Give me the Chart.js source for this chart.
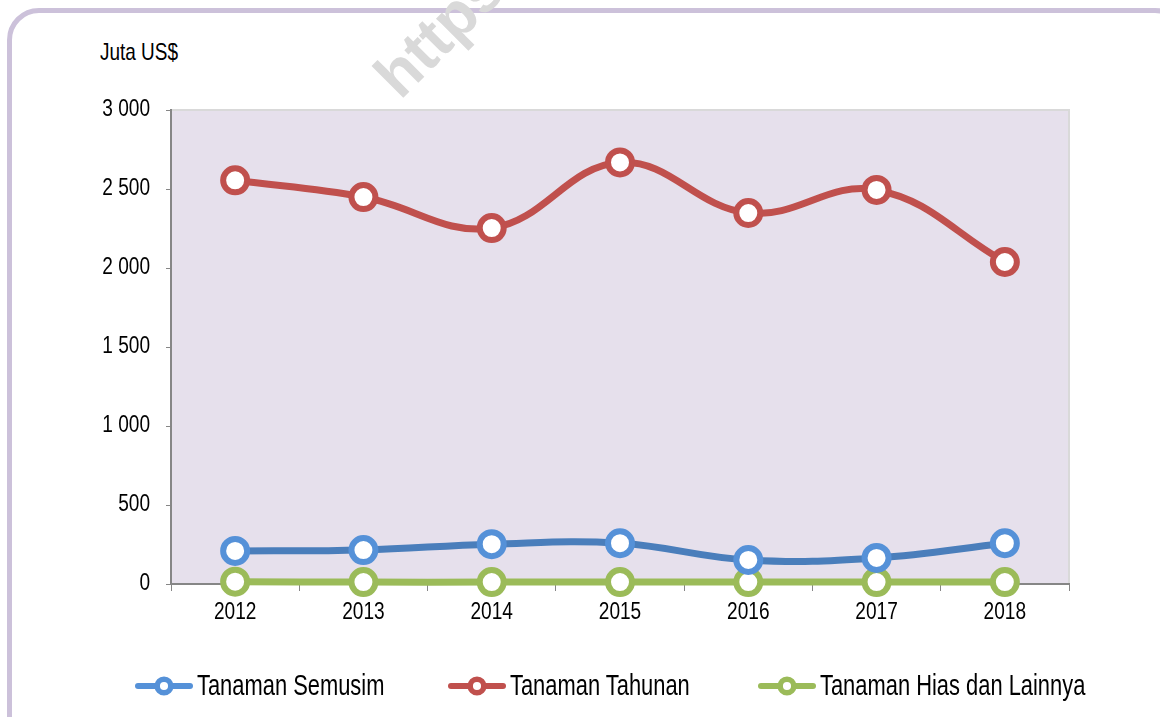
<!DOCTYPE html>
<html lang="id">
<head>
<meta charset="UTF-8">
<title>Nilai Ekspor</title>
<script src="https://cdn.jsdelivr.net/npm/chart.js"></script>
<style>
    html, body { margin: 0; padding: 0; background: #fff; overflow: hidden; }
    body { width: 1160px; height: 717px; position: relative; font-family: "Liberation Sans", Arial, sans-serif; }
    .kotak { position: absolute; left: 7px; top: 8px; width: 1180px; height: 740px; border: 5px solid #CCC1DA; border-radius: 32px; box-sizing: border-box; }
    .watermark { position: absolute; left: 397px; top: 44.5px; line-height: 1; transform-origin: 0 52.5px; transform: rotate(-45deg); color: #D9D9D9; font: bold 62px "Liberation Sans", Arial, sans-serif; white-space: nowrap; }
    .judul { position: absolute; left: 100px; top: 40px; font-size: 24px; line-height: 1; color: #000; transform-origin: left center; transform: scaleX(0.79); white-space: nowrap; }
    #wadah { position: absolute; left: 0; top: 0; width: 1160px; height: 717px; }
    #legenda { position: absolute; left: 0; top: 669px; width: 1160px; height: 34px; }
    .item { position: absolute; top: 0; height: 34px; }
    .item canvas { position: absolute; left: 0; top: 0; }
    .item span { position: absolute; left: 62px; top: 2px; font-size: 29px; line-height: 1; color: #000; white-space: nowrap; transform-origin: left center; transform: scaleX(0.755); }
</style>
</head>
<body>
<div class="kotak"></div>
<div class="watermark">https://</div>
<div class="judul">Juta US$</div>
<div id="wadah"><canvas id="grafik"></canvas></div>
<div id="legenda"></div>

<script>
    // data
    const tahun = ["2012", "2013", "2014", "2015", "2016", "2017", "2018"];
    const semusim = [209, 215, 252, 258, 152, 165, 258];
    const tahunan = [2555, 2449, 2253, 2668, 2348, 2494, 2038];
    const hias = [15, 12, 12, 12, 12, 12, 12];
    const namaSeri = ["Tanaman Semusim", "Tanaman Tahunan", "Tanaman Hias dan Lainnya"];

    const warnaGaris = ["#4A7EBB", "#C0504D", "#9BBB59"];
    const warnaTitik = ["#5591D8", "#C0504D", "#9BBB59"];
    const posisiTeksLegenda = [197, 510, 820];
    const hurufSumbu = { family: "'Liberation Sans', Arial, sans-serif", size: 23 };
    const rasioSumbu = 0.83; // huruf sumbu dibuat sempit seperti Arial Narrow

    const seri = [semusim, tahunan, hias];

    // teks di kanvas dipersempit secara horizontal
    const hurufSempit = {
        id: "hurufSempit",
        beforeInit(chart) {
            const ctx = chart.ctx;
            const asli = ctx.fillText.bind(ctx);
            ctx.fillText = function (t, x, y) {
                ctx.save();
                ctx.translate(x, y);
                ctx.scale(rasioSumbu, 1);
                asli(t, 0, 0);
                ctx.restore();
            };
        }
    };

    const latarPlot = {
        id: "latarPlot",
        beforeDraw(chart) {
            const { ctx, chartArea: a } = chart;
            ctx.save();
            ctx.fillStyle = "#E6E0EC";
            ctx.fillRect(a.left, a.top, a.right - a.left, a.bottom - a.top);
            ctx.strokeStyle = "#D9D9D9";
            ctx.lineWidth = 2;
            ctx.beginPath();
            ctx.moveTo(a.left, a.top);
            ctx.lineTo(a.right, a.top);
            ctx.lineTo(a.right, a.bottom);
            ctx.stroke();
            ctx.restore();
        }
    };

    const grafik = new Chart(document.getElementById("grafik"), {
        type: "line",
        data: {
            labels: tahun,
            datasets: seri.map((d, i) => ({
                label: namaSeri[i],
                data: d,
                borderColor: warnaGaris[i],
                borderWidth: 7,
                tension: 0.4,
                pointRadius: 12,
                pointHoverRadius: 12,
                pointBorderWidth: 6,
                pointBorderColor: warnaTitik[i],
                pointBackgroundColor: "#FFFFFF",
                clip: false,
                fill: false
            }))
        },
        options: {
            responsive: true,
            maintainAspectRatio: false,
            animation: false,
            layout: { padding: { left: 0, top: 110, right: 91, bottom: 0 } },
            plugins: { legend: { display: false }, tooltip: { enabled: false } },
            scales: {
                x: {
                    offset: true,
                    grid: { drawOnChartArea: false, drawTicks: true, tickLength: 7, color: "#868686", offset: true },
                    border: { display: true, color: "#868686", width: 2 },
                    ticks: { color: "#000", font: hurufSumbu, padding: 8, maxRotation: 0 },
                    afterFit(s) { s.height = 133; }
                },
                y: {
                    min: 0,
                    max: 3000,
                    grid: { drawOnChartArea: false, drawTicks: true, tickLength: 5, color: "#868686" },
                    border: { display: true, color: "#868686", width: 2 },
                    ticks: {
                        stepSize: 500,
                        color: "#000",
                        font: hurufSumbu,
                        padding: 16,
                        callback: v => v.toString().replace(/\B(?=(\d{3})+(?!\d))/g, " ")
                    },
                    afterFit(s) { s.width = 171; }
                }
            }
        },
        plugins: [hurufSempit, latarPlot]
    });

    // legenda buatan sendiri: garis + lingkaran
    const legenda = document.getElementById("legenda");
    namaSeri.forEach((nama, i) => {
        const item = document.createElement("div");
        item.className = "item";
        item.style.left = (posisiTeksLegenda[i] - 62) + "px";
        const c = document.createElement("canvas");
        c.width = 62;
        c.height = 34;
        const g = c.getContext("2d");
        g.strokeStyle = warnaTitik[i];
        g.lineWidth = 6;
        g.lineCap = "round";
        g.beginPath();
        g.moveTo(3, 17);
        g.lineTo(55, 17);
        g.stroke();
        g.beginPath();
        g.arc(29, 17, 6.8, 0, Math.PI * 2);
        g.fillStyle = "#fff";
        g.fill();
        g.lineWidth = 5.5;
        g.stroke();
        item.appendChild(c);
        const t = document.createElement("span");
        t.textContent = nama;
        item.appendChild(t);
        legenda.appendChild(item);
    });
</script>
</body>
</html>
